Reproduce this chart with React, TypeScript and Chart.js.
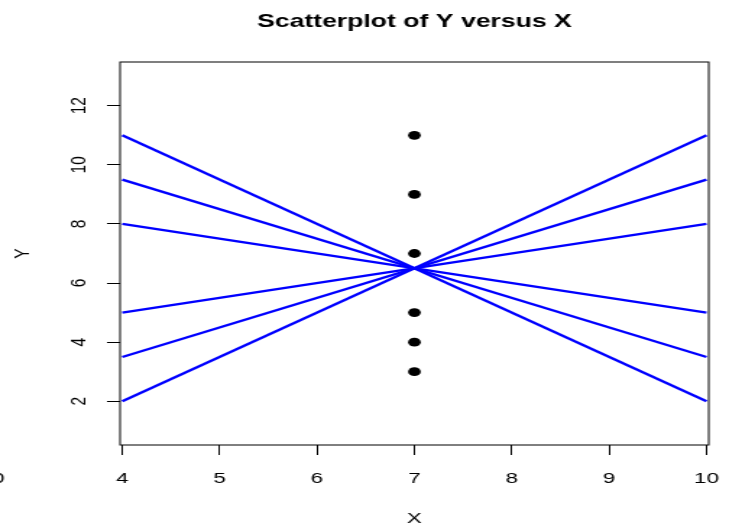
import { useEffect, useRef } from "react";
import { Chart, registerables } from "chart.js";

Chart.register(...registerables);

// ---- data ----
const xTicks = [4, 5, 6, 7, 8, 9, 10];
const yTicks = [2, 4, 6, 8, 10, 12];
const pointX = [7, 7, 7, 7, 7, 7];
const pointY = [11, 9, 7, 5, 4, 3];
const lineX = [4, 10];
const lineStartY = [11, 9.5, 8, 5, 3.5, 2];
const lineEndY = [2, 3.5, 5, 8, 9.5, 11];
const titleText = "Scatterplot of Y versus X";
const xTitle = "X";
const yTitle = "Y";
const strayLabel = "0";

// ---- layout ----
const W = 504; // internal drawing width (stretched horizontally to 729 by CSS)
const H = 529;
const SW = 729;
const FONT = "'Liberation Sans', Arial, Helvetica, sans-serif";
const TICK_SIZE = 15.5;

const decorPlugin = {
  id: "decor",
  afterDraw(chart: any) {
    const { ctx, chartArea } = chart;
    ctx.save();
    ctx.strokeStyle = "#000";
    ctx.lineWidth = 1;
    ctx.strokeRect(chartArea.left, chartArea.top, chartArea.right - chartArea.left, chartArea.bottom - chartArea.top);
    ctx.fillStyle = "#000";
    const cx = (chartArea.left + chartArea.right) / 2;
    ctx.font = `bold 18.4px ${FONT}`;
    ctx.textAlign = "center";
    ctx.textBaseline = "alphabetic";
    ctx.fillText(titleText, cx, 27);
    ctx.font = `${TICK_SIZE}px ${FONT}`;
    ctx.fillText(xTitle, cx, 523);
    ctx.textAlign = "right";
    ctx.fillText(strayLabel, 3, 483);
    ctx.translate(20, (chartArea.top + chartArea.bottom) / 2);
    ctx.rotate(-Math.PI / 2);
    ctx.textAlign = "center";
    ctx.fillText(yTitle, 0, 0);
    ctx.restore();
  },
};

export default function App() {
  const ref = useRef<HTMLCanvasElement | null>(null);
  useEffect(() => {
    const canvas = ref.current!;
    const datasets: any[] = [
      {
        type: "scatter",
        data: pointX.map((x, i) => ({ x, y: pointY[i] })),
        pointRadius: 4.4,
        pointBackgroundColor: "#000",
        pointBorderWidth: 0,
        showLine: false,
      },
    ];
    lineStartY.forEach((y0, i) => {
      datasets.push({
        type: "line",
        data: [
          { x: lineX[0], y: y0 },
          { x: lineX[1], y: lineEndY[i] },
        ],
        borderColor: "#0000FF",
        borderWidth: 2.3,
        pointRadius: 0,
        fill: false,
      });
    });
    const chart = new Chart(canvas, {
      type: "scatter",
      data: { datasets },
      plugins: [decorPlugin],
      options: {
        animation: false,
        responsive: false,
        devicePixelRatio: 1,
        layout: { padding: { top: 62, right: 14, left: 0, bottom: 0 } },
        plugins: { legend: { display: false }, title: { display: false }, tooltip: { enabled: false } },
        scales: {
          x: {
            type: "linear",
            min: 3.977,
            max: 10.023,
            afterBuildTicks: (s: any) => {
              s.ticks = xTicks.map((v) => ({ value: v }));
            },
            afterFit: (s: any) => {
              s.height = 84;
              s.paddingLeft = 0;
              s.paddingRight = 0;
            },
            border: { display: false },
            grid: { drawOnChartArea: false, drawTicks: true, tickLength: 10, color: "#000", lineWidth: 1 },
            ticks: { color: "#000", font: { family: FONT, size: TICK_SIZE }, padding: 14, maxRotation: 0, autoSkip: false },
          },
          y: {
            type: "linear",
            min: 0.52,
            max: 13.48,
            afterBuildTicks: (s: any) => {
              s.ticks = yTicks.map((v) => ({ value: v }));
            },
            afterFit: (s: any) => {
              s.width = 83;
              s.paddingTop = 0;
              s.paddingBottom = 0;
            },
            border: { display: false },
            grid: { drawOnChartArea: false, drawTicks: true, tickLength: 9, color: "#000", lineWidth: 1 },
            ticks: {
              color: "#000",
              font: { family: FONT, size: TICK_SIZE },
              padding: 11,
              minRotation: 90,
              maxRotation: 90,
              crossAlign: "center",
              autoSkip: false,
            },
          },
        },
      },
    } as any);
    return () => chart.destroy();
  }, []);
  return (
    <div style={{ position: "absolute", left: 0, top: 0, width: SW, height: H, background: "#fff" }}>
      <canvas ref={ref} width={W} height={H} style={{ width: SW + "px", height: H + "px", display: "block" }} />
    </div>
  );
}
